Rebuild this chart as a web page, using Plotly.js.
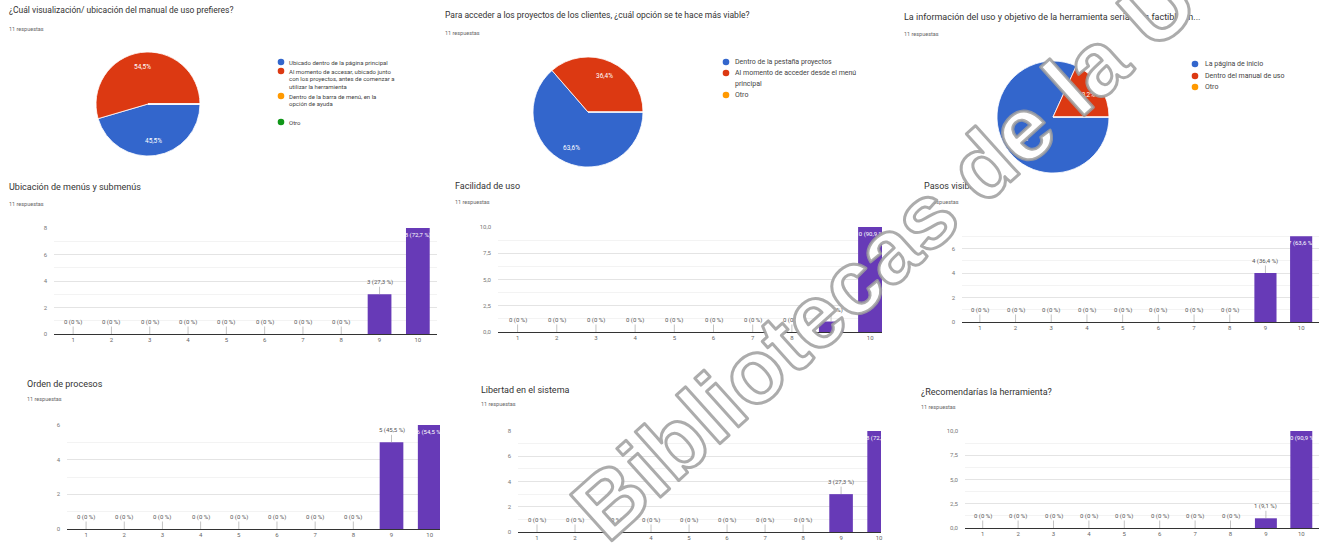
<!DOCTYPE html>
<html><head><meta charset="utf-8">
<script src="https://cdn.plot.ly/plotly-3.0.1.min.js"></script>
<style>html,body{margin:0;padding:0;background:#fff;} #chart{width:1327px;height:545px;}</style>
</head><body><div id="chart"></div>
<script>
// ---------- DATA ----------
const escala = [1,2,3,4,5,6,7,8,9,10];
const ubicacionMenus  = [0,0,0,0,0,0,0,0,3,8];
const facilidadUso    = [0,0,0,0,0,0,0,0,1,10];
const pasosVisibles   = [0,0,0,0,0,0,0,0,4,7];
const ordenProcesos   = [0,0,0,0,0,0,0,0,5,6];
const libertadSistema = [0,0,0,0,0,0,0,0,3,8];
const recomendaria    = [0,0,0,0,0,0,0,0,1,10];

const manualLabels = ['Ubicado dentro de la página principal',
  'Al momento de accesar, ubicado junto con los proyectos, antes de comenzar a utilizar la herramienta',
  'Dentro de la barra de menú, en la opción de ayuda', 'Otro'];
const manualValues = [5,6,0,0];
const accesoLabels = ['Dentro de la pestaña proyectos','Al momento de acceder desde el menú principal','Otro'];
const accesoValues = [7,4,0];
const infoLabels = ['La página de inicio','Dentro del manual de uso','Otro'];
const infoValues = [9,2,0];

const pieTitles = ['¿Cuál visualización/ ubicación del manual de uso prefieres?',
  'Para acceder a los proyectos de los clientes, ¿cuál opción se te hace más viable?',
  'La información del uso y objetivo de la herramienta sería más factible en...'];
const barTitles = ['Ubicación de menús y submenús','Facilidad de uso','Pasos visibles',
  'Orden de procesos','Libertad en el sistema','¿Recomendarías la herramienta?'];
const respuestasTexto = '11 respuestas';
const marcaAgua = 'Bibliotecas de la U';

const pieColors = ['#3366cc','#dc3912','#ff9900','#109618'];
const barColor = '#673ab7';

// ---------- HELPERS ----------
const W = 1327, H = 545;
const px = x => x / W;
const py = y => 1 - y / H;
const FONT = 'Roboto, Arial, sans-serif';

function pctText(n, total, sep){
  const p = Math.round(n / total * 1000) / 10;
  return (Number.isInteger(p) ? String(p) : p.toFixed(1)).replace('.', ',') + sep + '%';
}
function etiqueta(n, total){ return n + ' (' + pctText(n, total, ' ') + ')'; }
function wrap(str, max){
  const words = str.split(' '); const lines = []; let cur = '';
  for (const w of words){
    if (cur && (cur + ' ' + w).length > max){ lines.push(cur); cur = w; }
    else cur = cur ? cur + ' ' + w : w;
  }
  if (cur) lines.push(cur);
  return lines;
}

const traces = [];
const annotations = [];
const shapes = [];
const layout = {
  width: W, height: H, margin: {l:0,r:0,t:0,b:0},
  paper_bgcolor: '#fff', plot_bgcolor: '#fff',
  separators: ',.', showlegend: false,
  font: {family: FONT, color: '#444'}
};

function addTitle(t, x, y, size){
  annotations.push({text: t, xref:'paper', yref:'paper', x: px(x), y: py(y), xanchor:'left', yanchor:'middle',
    showarrow:false, font:{family: FONT, size: size, color:'#333'}});
}
function addSub(x, y){
  annotations.push({text: respuestasTexto, xref:'paper', yref:'paper', x: px(x), y: py(y), xanchor:'left', yanchor:'middle',
    showarrow:false, font:{family: FONT, size: 5.5, color:'#666'}});
}

// ---------- PIES ----------
const pies = [
  {labels: manualLabels, values: manualValues, title: pieTitles[0], tpos:[7,10], tsize:8.5, spos:[7,29],
   cx:148, cy:104, r:52,
   leg:{cx:281, tx:287, ys:[62,71,96,122], lineH:7.7, max:38, size:6}},
  {labels: accesoLabels, values: accesoValues, title: pieTitles[1], tpos:[443,15], tsize:8.5, spos:[443,33],
   cx:588, cy:112, r:55,
   leg:{cx:726, tx:733, ys:[62,73,95], lineH:11.5, max:36, size:7}},
  {labels: infoLabels, values: infoValues, title: pieTitles[2], tpos:[902,17], tsize:9, spos:[902,34],
   cx:1053, cy:117, r:56,
   leg:{cx:1195, tx:1203, ys:[64,76,87], lineH:11, max:36, size:7}}
];
pies.forEach(p => {
  traces.push({
    type:'pie', labels: p.labels, values: p.values, sort:false, direction:'clockwise', rotation:90,
    domain:{x:[px(p.cx - p.r), px(p.cx + p.r)], y:[py(p.cy + p.r), py(p.cy - p.r)]},
    marker:{colors: pieColors.slice(0, p.labels.length), line:{color:'#fff', width:0.8}},
    textinfo:'none', hoverinfo:'none', showlegend:false
  });
  // slice percentage labels, placed at each slice's mid-angle
  const total = p.values.reduce((a, c) => a + c, 0);
  let cum = 0;
  p.values.forEach(v => {
    if (v > 0){
      const th = (cum + v / 2) / total * 2 * Math.PI;
      const rr = 0.72 * p.r;
      annotations.push({text: pctText(v, total, ''), xref:'paper', yref:'paper',
        x: px(p.cx + rr * Math.cos(th)), y: py(p.cy + rr * Math.sin(th)),
        xanchor:'center', yanchor:'middle', showarrow:false,
        font:{family: FONT, size:6.5, color:'#fff'}});
    }
    cum += v;
  });
  addTitle(p.title, p.tpos[0], p.tpos[1], p.tsize);
  addSub(p.spos[0], p.spos[1]);
  p.labels.forEach((lab, i) => {
    const y0 = p.leg.ys[i];
    shapes.push({type:'circle', xref:'paper', yref:'paper', xsizemode:'pixel', ysizemode:'pixel',
      xanchor: px(p.leg.cx), yanchor: py(y0), x0:-3.3, x1:3.3, y0:-3.3, y1:3.3,
      fillcolor: pieColors[i], line:{width:0}});
    wrap(lab, p.leg.max).forEach((ln, k) => {
      annotations.push({text: ln, xref:'paper', yref:'paper', x: px(p.leg.tx), y: py(y0 + k * p.leg.lineH),
        xanchor:'left', yanchor:'middle', showarrow:false, font:{family: FONT, size: p.leg.size, color:'#444'}});
    });
  });
});

// ---------- BARS ----------
const bars = [
  {vals: ubicacionMenus,  title: barTitles[0], tpos:[7,187],   spos:[7,204],   L:54,  R:437,  T:228, B:334, range:[0.5,10.5],  ymax:8,  dtick:2},
  {vals: facilidadUso,    title: barTitles[1], tpos:[453,186], spos:[453,202], L:498, R:882,  T:227, B:332, range:[0.5,10.3],  ymax:10, dtick:2.5, fmt:'.1f'},
  {vals: pasosVisibles,   title: barTitles[2], tpos:[922,186], spos:[922,202], L:962, R:1319, T:224, B:322, range:[0.5,10.5],  ymax:8,  dtick:2},
  {vals: ordenProcesos,   title: barTitles[3], tpos:[25,384],  spos:[25,399],  L:67,  R:440,  T:425, B:529, range:[0.5,10.27], ymax:6,  dtick:2},
  {vals: libertadSistema, title: barTitles[4], tpos:[479,390], spos:[479,404], L:518, R:881,  T:431, B:532, range:[0.5,10.05], ymax:8,  dtick:2},
  {vals: recomendaria,    title: barTitles[5], tpos:[919,392], spos:[919,407], L:965, R:1319, T:431, B:528, range:[0.5,10.5],  ymax:10, dtick:2.5, fmt:'.1f'}
];
bars.forEach((b, i) => {
  const n = i + 1;
  const total = b.vals.reduce((a, c) => a + c, 0);
  const maxV = Math.max(...b.vals);
  const labels = b.vals.map(v => etiqueta(v, total));
  traces.push({
    type:'bar', x: escala, y: b.vals, xaxis:'x' + n, yaxis:'y' + n, width:0.62,
    marker:{color: barColor},
    text: labels,
    textposition: b.vals.map(v => v === maxV ? 'inside' : 'none'),
    textangle: 0, insidetextanchor:'end', constraintext:'none', cliponaxis:false,
    insidetextfont:{family: FONT, size:6, color:'#fff'},
    hoverinfo:'none'
  });
  // labels above the other bars, with a short stem (as in Google Forms charts)
  b.vals.forEach((v, j) => {
    if (v === maxV) return;
    annotations.push({text: labels[j], xref:'x' + n, yref:'y' + n, x: escala[j], y: v,
      showarrow:true, arrowhead:0, arrowwidth:0.6, arrowcolor:'#9a9a9a', ax:0, ay:-12, standoff:0,
      borderpad:0, font:{family: FONT, size:6, color:'#555'}});
  });
  layout['xaxis' + n] = {
    domain:[px(b.L), px(b.R)], anchor:'y' + n, range: b.range, tickvals: escala,
    showgrid:false, zeroline:false, showline:true, linecolor:'#333', linewidth:1,
    ticks:'', tickfont:{family: FONT, size:6, color:'#666'}, fixedrange:true
  };
  layout['yaxis' + n] = {
    domain:[py(b.B), py(b.T)], anchor:'x' + n, range:[0, b.ymax], dtick: b.dtick, tick0:0,
    tickformat: b.fmt || '', showgrid:true, gridcolor:'#e4e4e4', gridwidth:1,
    minor:{dtick: b.dtick / 2, showgrid:true, gridcolor:'#f3f3f3', gridwidth:1},
    zeroline:false, showline:false, ticks:'', ticklabelstandoff:6,
    tickfont:{family: FONT, size:6, color:'#777'}, fixedrange:true
  };
  addTitle(b.title, b.tpos[0], b.tpos[1], 9);
  addSub(b.spos[0], b.spos[1]);
});

// ---------- WATERMARK ----------
annotations.push({text: marcaAgua, xref:'paper', yref:'paper', x: px(884), y: py(254),
  xanchor:'center', yanchor:'middle', textangle:-42, showarrow:false,
  font:{family:'Liberation Sans, Arial, sans-serif', size:90, weight:'bold', color:'#ffffff'}});

layout.annotations = annotations;
layout.shapes = shapes;

Plotly.newPlot('chart', traces, layout, {staticPlot:true, displayModeBar:false}).then(gd => {
  gd.querySelectorAll('.annotation-text').forEach(t => {
    if (t.textContent === marcaAgua){
      t.style.stroke = '#9e9e9e';
      t.style.strokeWidth = '3px';
      t.style.strokeLinejoin = 'round';
      t.style.strokeOpacity = '0.85';
    }
  });
});
</script>
</body></html>
